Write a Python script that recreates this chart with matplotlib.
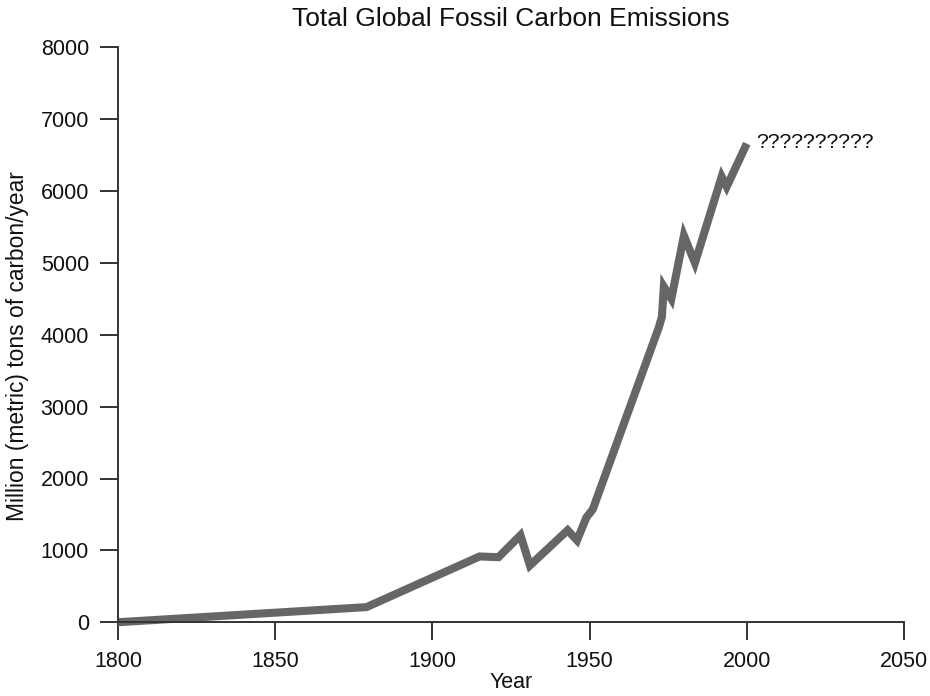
import matplotlib
matplotlib.use("Agg")
import matplotlib.pyplot as plt

# values (year, million tons of carbon per year)
years = [1800, 1879, 1915, 1921, 1928, 1931, 1943, 1946, 1949, 1951, 1972, 1973, 1973.6,
         1976, 1980, 1983.5, 1992, 1993.6, 2000]
emissions = [0, 210, 915, 905, 1210, 790, 1280, 1140, 1460, 1570, 4100, 4250, 4670,
             4500, 5380, 5000, 6200, 6060, 6660]

x_ticks = [1800, 1850, 1900, 1950, 2000, 2050]
y_ticks = [0, 1000, 2000, 3000, 4000, 5000, 6000, 7000, 8000]

plt.rcParams['font.family'] = ['Liberation Sans', 'DejaVu Sans']

fig = plt.figure(figsize=(9.3, 6.96), dpi=100)
ax = fig.add_axes([0.127, 0.106, 0.845, 0.826])

ax.plot(years, emissions, color='#666666', linewidth=5.8, solid_joinstyle='miter',
        solid_capstyle='butt', clip_on=False)
ax.text(2003, 6680, '??????????', fontsize=15.3, va='center', ha='left', color='#111111')

ax.set_xlim(1800, 2050)
ax.set_ylim(0, 8000)
ax.set_xticks(x_ticks)
ax.set_yticks(y_ticks)

for side in ['top', 'right']:
    ax.spines[side].set_visible(False)
for side in ['left', 'bottom']:
    ax.spines[side].set_linewidth(1.4)
    ax.spines[side].set_color('#333333')

ax.tick_params(axis='both', direction='out', length=13, width=1.4, color='#333333',
               pad=8, labelsize=15.5, labelcolor='#111111')

ax.set_title('Total Global Fossil Carbon Emissions', fontsize=19, pad=15, color='#111111')
ax.set_xlabel('Year', fontsize=15.5, labelpad=0, color='#111111')
ax.set_ylabel('Million (metric) tons of carbon/year', fontsize=16.4, color='#111111')
ax.yaxis.set_label_coords(-0.114, 0.48)

fig.savefig('out.png', dpi=100)
